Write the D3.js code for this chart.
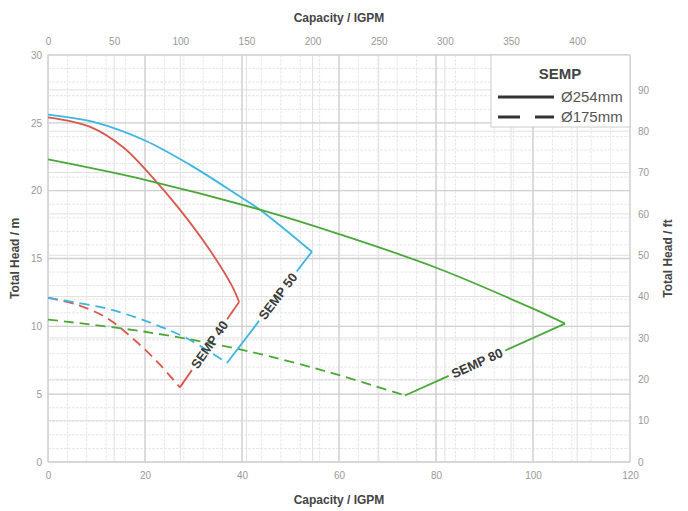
<!DOCTYPE html>
<html>
<head>
<meta charset="utf-8">
<script src="https://cdn.jsdelivr.net/npm/d3@7"></script>
<style>
  body { margin: 0; background: #fff; }
  svg text { font-family: "Liberation Sans", Arial, sans-serif; }
</style>
</head>
<body>
<div id="chart"></div>
<script>
// pump curves, capacity (m3/h on the scale) vs head in m
const semp40Flow254 = [0, 8.7, 15.5, 21, 27.2, 33.4, 37.9, 39.4];
const semp40Head254 = [25.4, 24.7, 23.2, 21.2, 18.6, 15.6, 13.0, 11.8];
const semp50Flow254 = [0, 10.1, 20, 29.3, 39, 43.7, 54.4];
const semp50Head254 = [25.6, 25.0, 23.7, 21.9, 19.7, 18.6, 15.5];
const semp80Flow254 = [0, 20, 43.7, 60, 80.2, 100, 106.6];
const semp80Head254 = [22.3, 20.8, 18.6, 16.8, 14.3, 11.3, 10.2];

const semp40Flow175 = [0, 6, 12.2, 17.5, 22.5, 27.2];
const semp40Head175 = [12.1, 11.6, 10.6, 9.1, 7.4, 5.5];
const semp50Flow175 = [0, 12.2, 21.6, 28.7, 36.9];
const semp50Head175 = [12.1, 11.3, 10.2, 9.1, 7.3];
const semp80Flow175 = [0, 20, 39.6, 58.1, 73.6];
const semp80Head175 = [10.5, 9.6, 8.3, 6.6, 4.9];

const pumpNames = ['SEMP 40', 'SEMP 50', 'SEMP 80'];
const pumpColors = ['#d8584c', '#3bb6e2', '#4aa83a'];

const bottomTicks = [0, 20, 40, 60, 80, 100, 120];
const topTicks = [0, 50, 100, 150, 200, 250, 300, 350, 400];
const leftTicks = [0, 5, 10, 15, 20, 25, 30];
const rightTicks = [0, 10, 20, 30, 40, 50, 60, 70, 80, 90];
const legendTitle = 'SEMP';
const legendLabels = ['Ø254mm', 'Ø175mm'];

const width = 688, height = 511;
const margin = { top: 55, right: 58, bottom: 49, left: 48 };
const innerW = width - margin.left - margin.right;
const innerH = height - margin.top - margin.bottom;

const svg = d3.select('#chart').append('svg')
    .attr('width', width)
    .attr('height', height);

svg.append('rect').attr('width', width).attr('height', height).attr('fill', '#fff');

const x = d3.scaleLinear().domain([0, 120]).range([0, innerW]);
const xTop = d3.scaleLinear().domain([0, 120 * 3.666]).range([0, innerW]);
const y = d3.scaleLinear().domain([0, 30]).range([innerH, 0]);
const yFt = d3.scaleLinear().domain([0, 30 * 3.2808]).range([innerH, 0]);

const g = svg.append('g')
    .attr('transform', `translate(${margin.left},${margin.top})`);

// grid: minor first, then secondary axes, then major
const grid = g.append('g').attr('class', 'grid');
grid.selectAll('.minor-x').data(d3.range(0, 121, 4)).enter().append('line')
    .attr('x1', d => x(d)).attr('x2', d => x(d))
    .attr('y1', 0).attr('y2', innerH)
    .attr('stroke', '#e8e8e8').attr('stroke-dasharray', '3,1');
grid.selectAll('.minor-y').data(d3.range(0, 31, 1)).enter().append('line')
    .attr('y1', d => y(d)).attr('y2', d => y(d))
    .attr('x1', 0).attr('x2', innerW)
    .attr('stroke', '#e8e8e8').attr('stroke-dasharray', '3,1');
grid.selectAll('.top-x').data(topTicks).enter().append('line')
    .attr('x1', d => xTop(d)).attr('x2', d => xTop(d))
    .attr('y1', 0).attr('y2', innerH)
    .attr('stroke', '#e0e0e0');
grid.selectAll('.ft-y').data(rightTicks).enter().append('line')
    .attr('y1', d => yFt(d)).attr('y2', d => yFt(d))
    .attr('x1', 0).attr('x2', innerW)
    .attr('stroke', '#e0e0e0');
grid.selectAll('.major-x').data(bottomTicks).enter().append('line')
    .attr('x1', d => x(d)).attr('x2', d => x(d))
    .attr('y1', 0).attr('y2', innerH)
    .attr('stroke', '#d0d0d0').attr('stroke-width', 1.4);
grid.selectAll('.major-y').data(leftTicks).enter().append('line')
    .attr('y1', d => y(d)).attr('y2', d => y(d))
    .attr('x1', 0).attr('x2', innerW)
    .attr('stroke', '#d0d0d0').attr('stroke-width', 1.4);

// axes (labels only, lines come from grid)
const styleAxis = sel => {
    sel.select('.domain').remove();
    sel.selectAll('.tick line').remove();
    sel.selectAll('text').attr('fill', '#999').style('font-size', '10px');
};
g.append('g').attr('transform', `translate(0,${innerH})`)
    .call(d3.axisBottom(x).tickValues(bottomTicks).tickSize(0).tickPadding(10)).call(styleAxis);
g.append('g')
    .call(d3.axisTop(xTop).tickValues(topTicks).tickSize(0).tickPadding(10)).call(styleAxis);
g.append('g')
    .call(d3.axisLeft(y).tickValues(leftTicks).tickSize(0).tickPadding(6)).call(styleAxis);
g.append('g').attr('transform', `translate(${innerW},0)`)
    .call(d3.axisRight(yFt).tickValues(rightTicks).tickSize(0).tickPadding(8)).call(styleAxis);

const titleStyle = t => t.attr('fill', '#444').style('font-size', '12px').style('font-weight', 'bold')
    .attr('text-anchor', 'middle');
svg.append('text').attr('x', margin.left + innerW / 2).attr('y', 22).text('Capacity / IGPM').call(titleStyle);
svg.append('text').attr('x', margin.left + innerW / 2).attr('y', 504).text('Capacity / IGPM').call(titleStyle);
svg.append('text').attr('transform', `translate(19,${margin.top + innerH / 2}) rotate(-90)`)
    .text('Total Head / m').call(titleStyle);
svg.append('text').attr('transform', `translate(672,${margin.top + innerH / 2}) rotate(-90)`)
    .text('Total Head / ft').call(titleStyle);

// curves
const line = d3.line().x(d => x(d[0])).y(d => y(d[1])).curve(d3.curveCatmullRom.alpha(0.5));
const zip = (a, b) => a.map((v, i) => [v, b[i]]);

const curves254 = [zip(semp40Flow254, semp40Head254), zip(semp50Flow254, semp50Head254), zip(semp80Flow254, semp80Head254)];
const curves175 = [zip(semp40Flow175, semp40Head175), zip(semp50Flow175, semp50Head175), zip(semp80Flow175, semp80Head175)];

const curveG = g.append('g');
curves254.forEach((c, i) => {
    curveG.append('path').attr('d', line(c))
        .attr('fill', 'none').attr('stroke', pumpColors[i]).attr('stroke-width', 1.8);
});
curves175.forEach((c, i) => {
    curveG.append('path').attr('d', line(c))
        .attr('fill', 'none').attr('stroke', pumpColors[i]).attr('stroke-width', 1.8)
        .attr('stroke-dasharray', '10,6');
});

// connector line between the two impeller curve ends, with the pump name on it
const labelPos = [0.5, 0.6, 0.45];
curves254.forEach((c, i) => {
    const lo = curves175[i][curves175[i].length - 1];
    const hi = c[c.length - 1];
    const p0 = [x(lo[0]), y(lo[1])], p1 = [x(hi[0]), y(hi[1])];
    const len = Math.hypot(p1[0] - p0[0], p1[1] - p0[1]);
    const angle = Math.atan2(p1[1] - p0[1], p1[0] - p0[0]) * 180 / Math.PI;
    const t = labelPos[i];
    const gap = 31 / len;
    const at = f => [p0[0] + (p1[0] - p0[0]) * f, p0[1] + (p1[1] - p0[1]) * f];
    [[0, t - gap], [t + gap, 1]].forEach(([a, b]) => {
        const s = at(a), e = at(b);
        curveG.append('line')
            .attr('x1', s[0]).attr('y1', s[1]).attr('x2', e[0]).attr('y2', e[1])
            .attr('stroke', pumpColors[i]).attr('stroke-width', 1.8);
    });
    const m = at(t);
    curveG.append('text')
        .attr('transform', `translate(${m[0]},${m[1]}) rotate(${angle})`)
        .attr('text-anchor', 'middle').attr('dy', '0.35em')
        .attr('fill', '#3a3a3a').style('font-size', '13px').style('font-weight', 'bold')
        .text(pumpNames[i]);
});

// legend
const legend = svg.append('g');
legend.append('rect').attr('x', 491).attr('y', 55).attr('width', 139).attr('height', 72)
    .attr('fill', '#fff').attr('stroke', '#cccccc');
legend.append('text').attr('x', 560).attr('y', 79).attr('text-anchor', 'middle')
    .attr('fill', '#444').style('font-size', '15px').style('font-weight', 'bold').text(legendTitle);
legendLabels.forEach((lab, i) => {
    const ly = 97 + i * 20;
    legend.append('line').attr('x1', 498).attr('x2', 554).attr('y1', ly).attr('y2', ly)
        .attr('stroke', '#333').attr('stroke-width', 3)
        .attr('stroke-dasharray', i === 1 ? '22,15' : null);
    legend.append('text').attr('x', 561).attr('y', ly + 5)
        .attr('fill', '#555').style('font-size', '15px').text(lab);
});
</script>
</body>
</html>
